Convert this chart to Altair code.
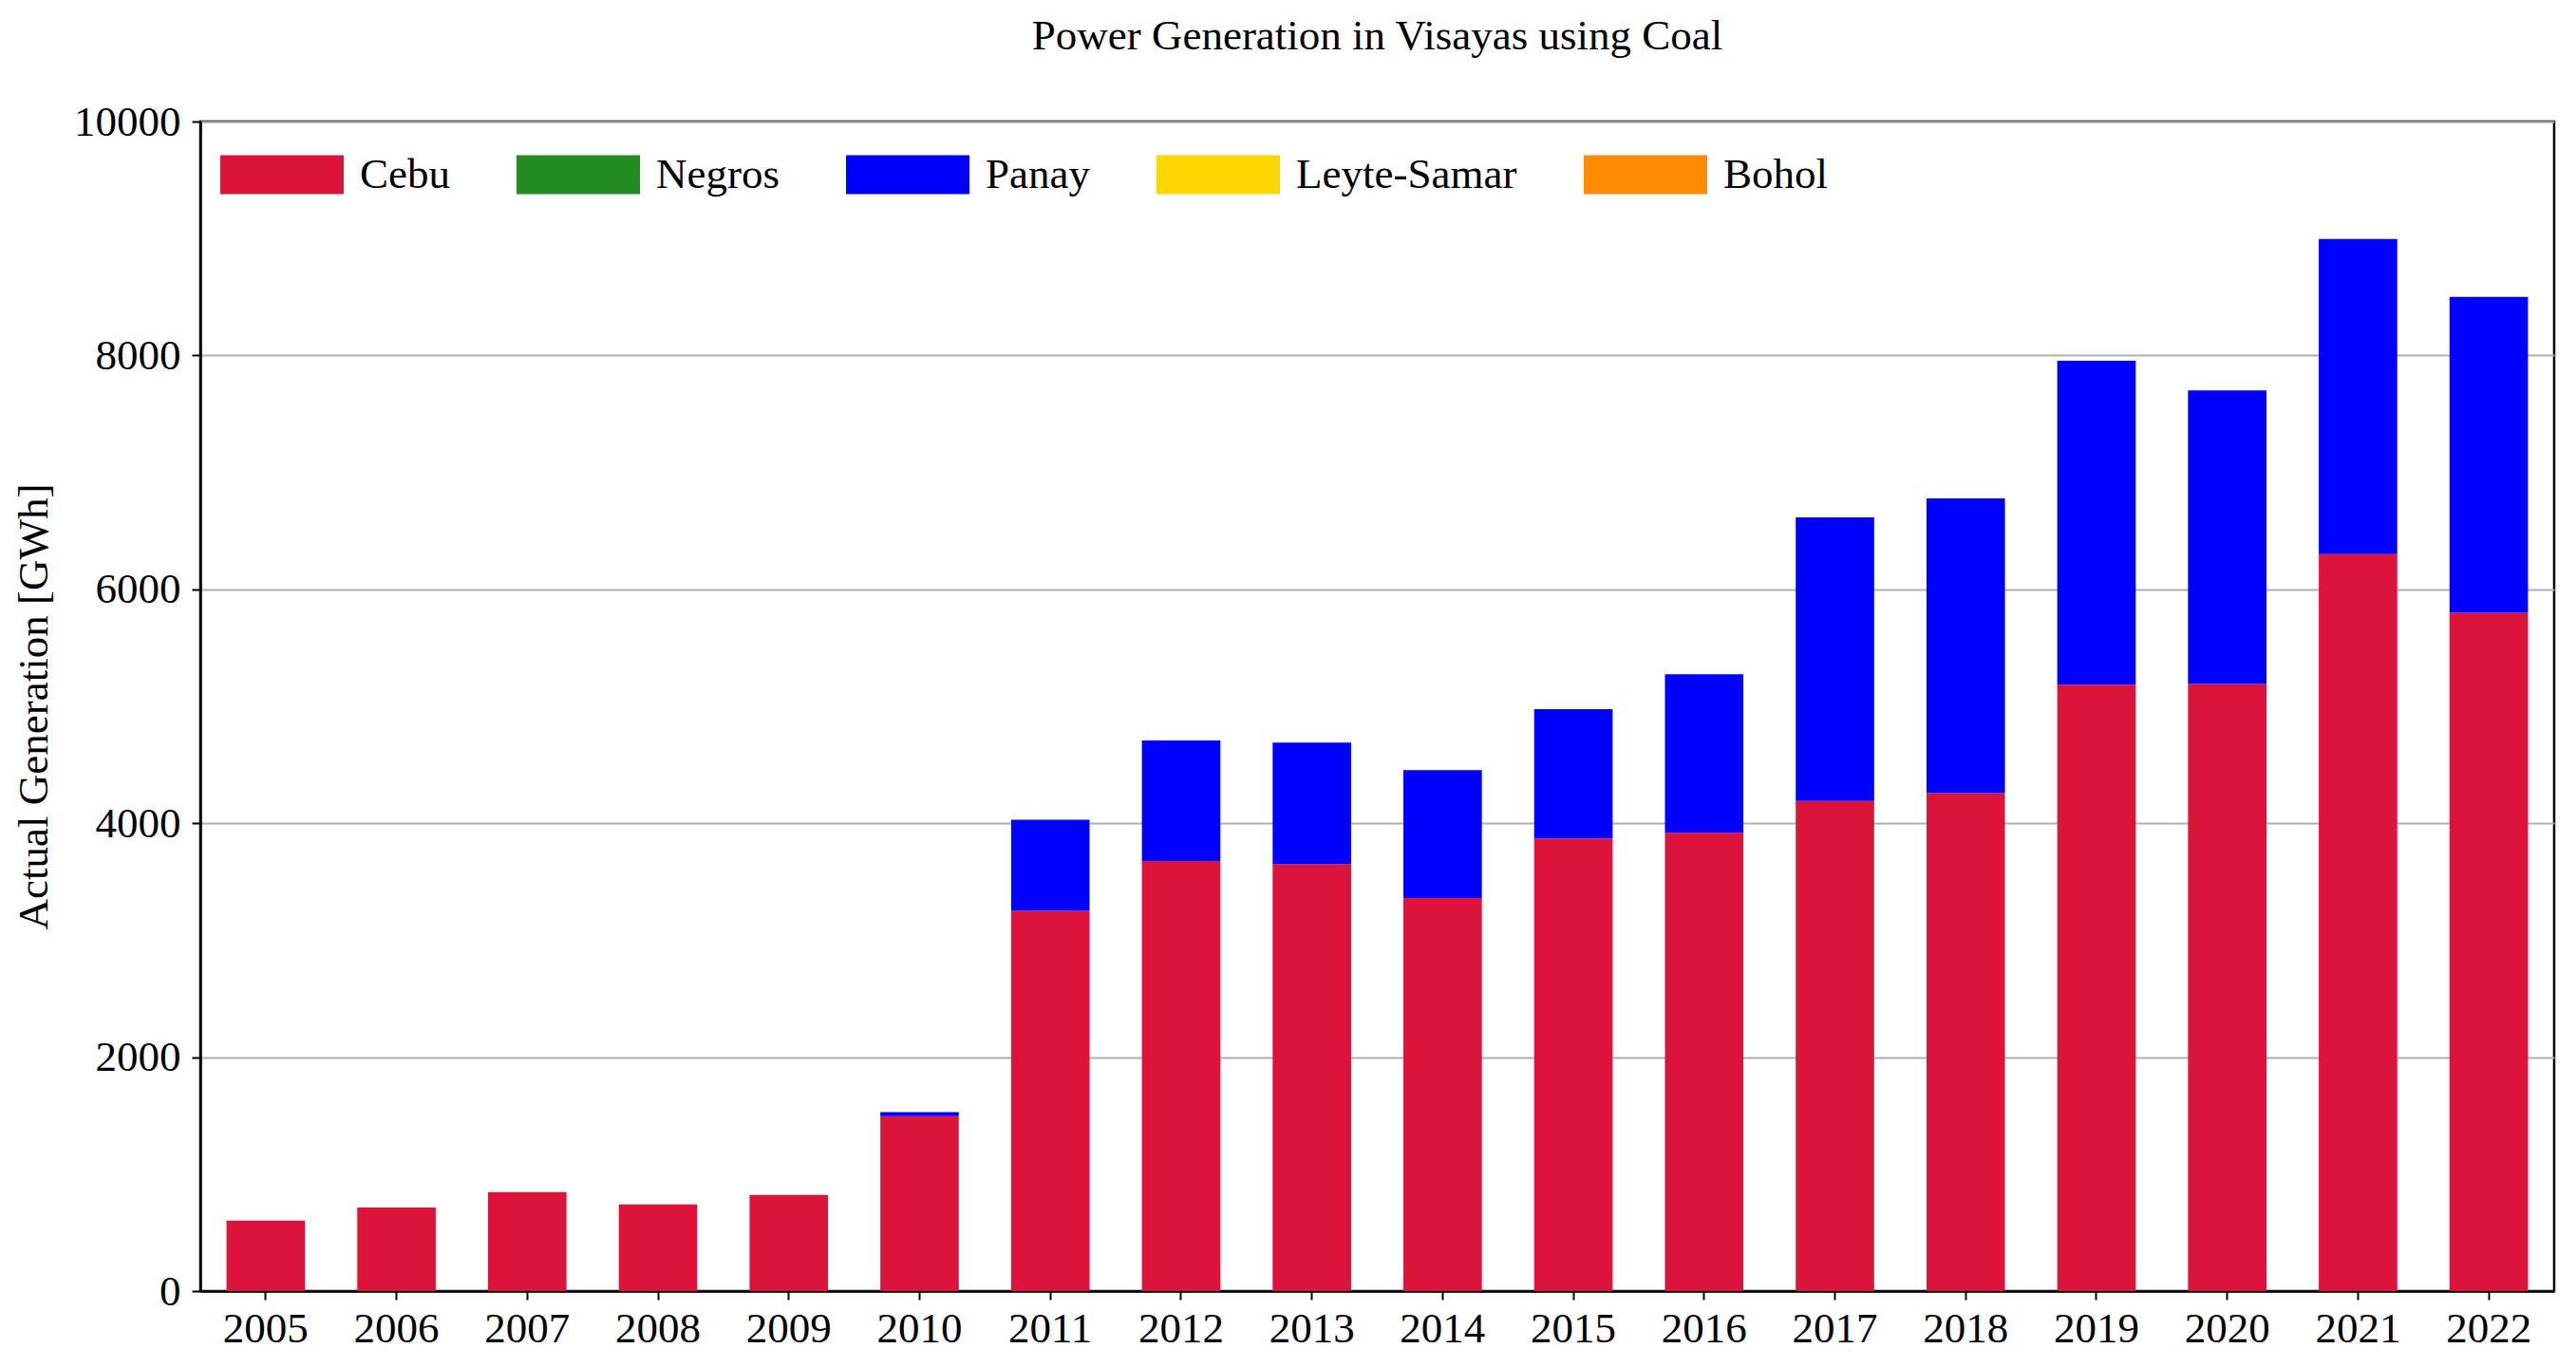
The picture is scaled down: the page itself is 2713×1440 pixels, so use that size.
import altair as alt
import pandas as pd

years = [str(y) for y in range(2005, 2023)]
regions = ["Cebu", "Negros", "Panay", "Leyte-Samar", "Bohol"]
colors = ["#DC143C", "#228B22", "#0000FF", "#FFD700", "#FF8C00"]

cebu = [602, 715, 846, 740, 821, 1495, 3250, 3677, 3650, 3360, 3870, 3919, 4190, 4258, 5185, 5190, 6301, 5800]
negros = [0] * 18
panay = [0, 0, 0, 0, 0, 35, 780, 1030, 1040, 1095, 1105, 1355, 2425, 2520, 2770, 2510, 2695, 2700]
leyte_samar = [0] * 18
bohol = [0] * 18

series = [cebu, negros, panay, leyte_samar, bohol]
rows = []
for i, (name, vals) in enumerate(zip(regions, series)):
    for y, v in zip(years, vals):
        rows.append({"year": y, "region": name, "value": v, "idx": i})
df = pd.DataFrame(rows)

FONT = "Liberation Serif"
FS = 45

chart = alt.Chart(df).mark_bar().encode(
    x=alt.X("year:N", sort=years,
            scale=alt.Scale(paddingInner=0.4, paddingOuter=0.2),
            axis=alt.Axis(title=None, labelAngle=0, grid=False)),
    y=alt.Y("value:Q", stack="zero",
            scale=alt.Scale(domain=[0, 10000], nice=False),
            axis=alt.Axis(title="Actual Generation [GWh]",
                          values=[0, 2000, 4000, 6000, 8000, 10000],
                          format="d", grid=True)),
    color=alt.Color("region:N",
                    scale=alt.Scale(domain=regions, range=colors),
                    legend=alt.Legend(title=None, orient="none", direction="horizontal",
                                      legendX=21, legendY=-9,
                                      symbolType="M-1,-0.315H1V0.315H-1Z",
                                      symbolSize=16900, symbolStrokeWidth=0,
                                      symbolOpacity=1,
                                      labelFont=FONT, labelFontSize=FS,
                                      labelColor="black", labelOffset=17,
                                      columnPadding=70, labelLimit=0, padding=0)),
    order=alt.Order("idx:Q"),
).properties(
    width=2479,
    height=1232,
    padding={"left": 203, "top": 120, "right": 10, "bottom": 72},
    autosize=alt.AutoSizeParams(type="none"),
    title=alt.TitleParams("Power Generation in Visayas using Coal",
                          font=FONT, fontSize=FS, fontWeight="normal",
                          color="black", anchor="middle", offset=45),
).configure_view(
    stroke="black", strokeWidth=2.5
).configure_axis(
    labelFont=FONT, labelFontSize=FS, labelColor="black",
    titleFont=FONT, titleFontSize=FS, titleColor="black", titleFontWeight="normal",
    domainColor="black", domainWidth=2.5, tickColor="black", tickWidth=2,
    tickSize=9, gridColor="#b0b0b0", gridWidth=2,
).configure_axisX(
    labelPadding=8
).configure_axisY(
    labelPadding=12, titlePadding=19
)

chart.save("out.html", embed_options={"renderer": "svg", "actions": False})
